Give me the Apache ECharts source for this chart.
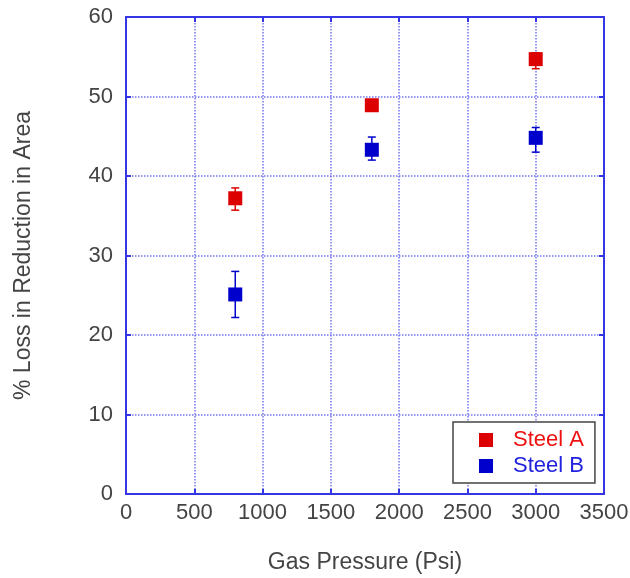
<!DOCTYPE html>
<html>
<head>
<meta charset="utf-8">
<script src="https://cdn.jsdelivr.net/npm/echarts@6/dist/echarts.min.js"></script>
<style>
html, body { margin: 0; padding: 0; background: #fff; }
#chartmain { width: 630px; height: 578px; }
</style>
</head>
<body>
<div id="chartmain"></div>
<script>
// data
var pressure = [800, 1800, 3000];
var steelA = [37.2, 48.9, 54.7];
var steelALow = [35.7, 48.5, 53.5];
var steelAHigh = [38.5, 49.3, 55.5];
var steelB = [25.1, 43.3, 44.8];
var steelBLow = [22.2, 42.0, 43.0];
var steelBHigh = [28.0, 44.9, 46.1];

var redColor = '#dd0000';
var blueColor = '#0000cc';
var axisColor = '#3535e6';
var gridColor = '#7474f2';
var textColor = '#444444';

function points(vals) {
	var out = [];
	for (var i = 0; i < pressure.length; i++) {
		out.push([pressure[i], vals[i]]);
	}
	return out;
}

function bars(low, high) {
	var out = [];
	for (var i = 0; i < pressure.length; i++) {
		out.push([pressure[i], low[i], high[i]]);
	}
	return out;
}

function errorBar(color) {
	return function(params, api) {
		var x = api.value(0);
		var lo = api.coord([x, api.value(1)]);
		var hi = api.coord([x, api.value(2)]);
		var half = 4;
		var style = { stroke: color, lineWidth: 1.5 };
		return {
			type: 'group',
			children: [
				{ type: 'line', shape: { x1: lo[0], y1: lo[1], x2: hi[0], y2: hi[1] }, style: style },
				{ type: 'line', shape: { x1: lo[0] - half, y1: lo[1], x2: lo[0] + half, y2: lo[1] }, style: style },
				{ type: 'line', shape: { x1: hi[0] - half, y1: hi[1], x2: hi[0] + half, y2: hi[1] }, style: style }
			]
		};
	};
}

var font = 'Liberation Sans, Arial, sans-serif';

var xBase = {
	type: 'value',
	min: 0,
	max: 3500,
	interval: 500,
	axisLine: { show: true, onZero: false, lineStyle: { color: axisColor, width: 2 } },
	axisTick: { show: true, inside: true, length: 5, lineStyle: { color: axisColor, width: 2 } }
};
var yBase = {
	type: 'value',
	min: 0,
	max: 60,
	interval: 10,
	axisLine: { show: true, onZero: false, lineStyle: { color: axisColor, width: 2 } },
	axisTick: { show: true, inside: true, length: 5, lineStyle: { color: axisColor, width: 2 } }
};

var option = {
	animation: false,
	backgroundColor: '#fff',
	grid: { left: 126, right: 26, top: 17, bottom: 84, outerBoundsMode: 'none' },
	legend: {
		left: 453,
		top: 422,
		orient: 'vertical',
		icon: 'rect',
		itemWidth: 14,
		itemHeight: 14,
		itemGap: 4,
		padding: [7, 11, 6, 26],
		borderColor: '#444',
		borderWidth: 1.5,
		backgroundColor: '#fff',
		textStyle: { fontFamily: font, fontSize: 22, lineHeight: 22, padding: [0, 0, 0, 15] },
		data: [
			{ name: 'Steel A', textStyle: { color: '#ee1111' } },
			{ name: 'Steel B', textStyle: { color: '#2222dd' } }
		]
	},
	xAxis: [
		Object.assign({}, xBase, {
			position: 'bottom',
			name: 'Gas Pressure (Psi)',
			nameLocation: 'middle',
			nameGap: 57,
			nameTextStyle: { color: textColor, fontFamily: font, fontSize: 23 },
			axisLabel: { color: textColor, fontFamily: font, fontSize: 22, margin: 8, formatter: function(v) { return String(v); } },
			splitLine: { show: true, lineStyle: { color: gridColor, type: [1.5, 1.5], width: 1.5 } }
		}),
		Object.assign({}, xBase, {
			position: 'top',
			axisLabel: { show: false },
			splitLine: { show: false }
		})
	],
	yAxis: [
		Object.assign({}, yBase, {
			position: 'left',
			name: '% Loss in Reduction in Area',
			nameLocation: 'middle',
			nameGap: 91,
			nameTextStyle: { color: textColor, fontFamily: font, fontSize: 23 },
			axisLabel: { color: textColor, fontFamily: font, fontSize: 22, margin: 13 },
			splitLine: { show: true, lineStyle: { color: gridColor, type: [1.5, 1.5], width: 1.5 } }
		}),
		Object.assign({}, yBase, {
			position: 'right',
			axisLabel: { show: false },
			splitLine: { show: false }
		})
	],
	series: [
		{
			name: 'Steel A err',
			type: 'custom',
			renderItem: errorBar(redColor),
			data: bars(steelALow, steelAHigh),
			z: 2
		},
		{
			name: 'Steel B err',
			type: 'custom',
			renderItem: errorBar(blueColor),
			data: bars(steelBLow, steelBHigh),
			z: 2
		},
		{
			name: 'Steel A',
			type: 'scatter',
			symbol: 'rect',
			symbolSize: 14,
			itemStyle: { color: redColor, opacity: 1 },
			data: points(steelA),
			z: 3
		},
		{
			name: 'Steel B',
			type: 'scatter',
			symbol: 'rect',
			symbolSize: 14,
			itemStyle: { color: blueColor, opacity: 1 },
			data: points(steelB),
			z: 3
		}
	]
};

var myChart = echarts.init(document.getElementById('chartmain'));
myChart.setOption(option);
</script>
</body>
</html>
